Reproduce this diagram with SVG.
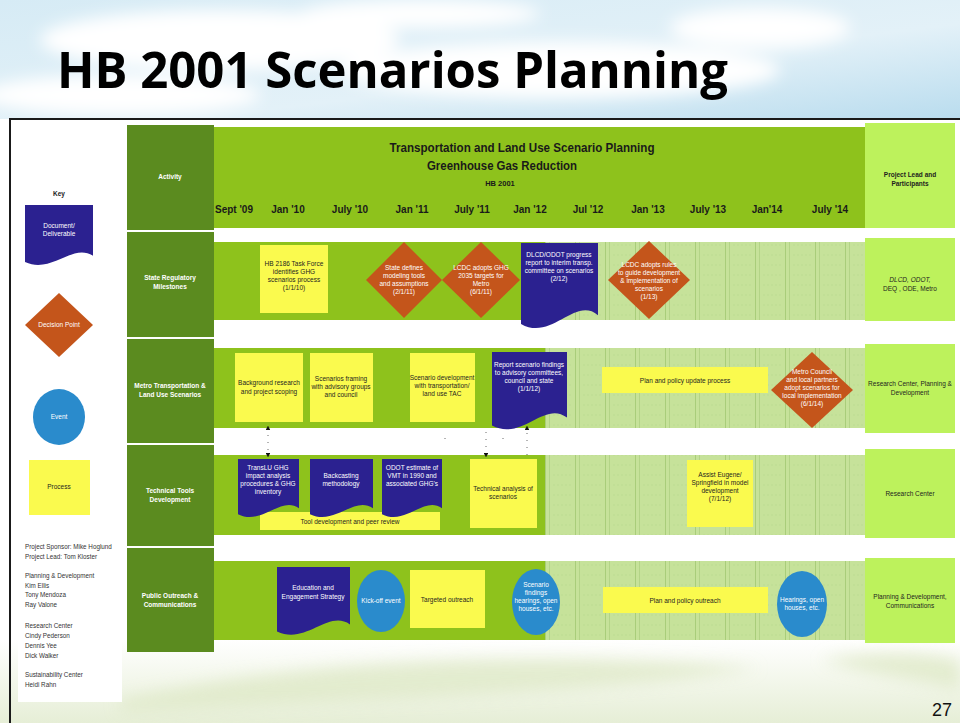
<svg xmlns="http://www.w3.org/2000/svg" xmlns:xlink="http://www.w3.org/1999/xlink" width="960" height="723" viewBox="0 0 960 723">
  <defs>
    <linearGradient id="sky" x1="0" y1="0" x2="1" y2="1">
      <stop offset="0" stop-color="#d6ebf5"/>
      <stop offset="0.6" stop-color="#e3f1f8"/>
      <stop offset="1" stop-color="#b9dcee"/>
    </linearGradient>
    <linearGradient id="ground" x1="0" y1="0" x2="0" y2="1">
      <stop offset="0" stop-color="#ffffff"/>
      <stop offset="1" stop-color="#e6eed6"/>
    </linearGradient>
    <filter id="soft" x="-20%" y="-50%" width="140%" height="200%">
      <feGaussianBlur stdDeviation="8"/>
    </filter>
    <pattern id="grid" width="30" height="10" patternUnits="userSpaceOnUse" x="545" y="0">
      <rect width="30" height="10" fill="#c6e29a"/>
      <line x1="0.5" y1="0" x2="0.5" y2="10" stroke="#a9cd7a" stroke-width="1"/>
      <line x1="4.5" y1="0" x2="4.5" y2="10" stroke="#b3d487" stroke-width="1"/>
      <line x1="8" y1="5" x2="26" y2="5" stroke="#b6d78c" stroke-width="0.6" stroke-dasharray="2 2"/>
    </pattern>
    <symbol id="docShape" viewBox="0 0 100 100" preserveAspectRatio="none">
      <path d="M0,0 H100 V82 C70,60 40,112 0,92 Z"/>
    </symbol>
    <marker id="tri" viewBox="0 0 10 10" refX="5" refY="5" markerWidth="6" markerHeight="6" orient="auto-start-reverse">
      <path d="M0,0 L10,5 L0,10 Z" fill="#111"/>
    </marker>
    <style>
      .sans { font-family: "Liberation Sans", Arial, sans-serif; }
      .doc { fill: #2b2190; }
      .dia { fill: #c4551b; }
      .evt { fill: #2a8bcc; }
      .proc { fill: #fafa4e; }
      .colDark { fill: #5b8b1f; }
      .colLight { fill: #bdf25c; }
      .band { fill: #8ec21c; }
      .pale { fill: url(#grid); }
      .wt { fill: #ffffff; font-family: "Liberation Sans", Arial, sans-serif; font-size: 6.5px; text-anchor: middle; }
      .wb { fill: #ffffff; font-family: "Liberation Sans", Arial, sans-serif; font-size: 6.5px; font-weight: bold; text-anchor: middle; }
      .dk { fill: #1e1e1e; font-family: "Liberation Sans", Arial, sans-serif; font-size: 6.5px; text-anchor: middle; }
      .nm { fill: #333333; font-family: "Liberation Sans", Arial, sans-serif; font-size: 6.3px; }
      .date { fill: #1a1a1a; font-family: "Liberation Sans", Arial, sans-serif; font-size: 10px; font-weight: bold; text-anchor: middle; }
      .hd { fill: #1a1a1a; font-family: "Liberation Sans", Arial, sans-serif; font-weight: bold; text-anchor: middle; }
      .link { stroke: #444; stroke-width: 0.8; stroke-dasharray: 1 6; fill: none; }
    </style>
  </defs>

  <!-- slide background -->
  <rect width="960" height="723" fill="#ffffff"/>
  <rect width="960" height="119" fill="url(#sky)"/>
  <g filter="url(#soft)" fill="#ffffff">
    <ellipse cx="220" cy="40" rx="180" ry="30"/>
    <ellipse cx="560" cy="70" rx="220" ry="28"/>
    <ellipse cx="760" cy="28" rx="90" ry="20"/>
    <ellipse cx="120" cy="95" rx="140" ry="20"/>
    <ellipse cx="420" cy="14" rx="120" ry="14"/>
  </g>
  <rect y="640" width="960" height="83" fill="url(#ground)"/>
  <g filter="url(#soft)" fill="#dfe9c8" opacity="0.8">
    <path d="M120,700 C300,660 520,650 760,668 C640,690 400,700 120,712 Z"/>
    <path d="M820,660 C880,650 930,652 960,660 L960,690 C920,680 870,676 820,660 Z"/>
  </g>

  <!-- slide frame -->
  <path d="M10,723 V119 H960" fill="none" stroke="#1a1a1a" stroke-width="2"/>

  <!-- title -->
  <text x="57" y="88" font-family="'Open Sans', 'Liberation Sans', sans-serif" font-size="50" font-weight="bold" fill="#000" textLength="671" lengthAdjust="spacingAndGlyphs">HB 2001 Scenarios Planning</text>

  <!-- key panel -->
  <g id="key">
    <rect x="18" y="178" width="104" height="524" fill="#ffffff"/>
    <text x="59" y="196" class="sans" font-size="6.5" font-weight="bold" fill="#222" text-anchor="middle">Key</text>
    <g id="key-document">
      <use xlink:href="#docShape" href="#docShape" x="25" y="205" width="68" height="62" class="doc"/>
      <text x="59" y="228" class="wt">Document/</text>
      <text x="59" y="236" class="wt">Deliverable</text>
    </g>
    <g id="key-decision">
      <polygon points="59,293 93,325 59,357 25,325" class="dia"/>
      <text x="59" y="327" class="wt">Decision Point</text>
    </g>
    <g id="key-event">
      <ellipse cx="59" cy="417" rx="26" ry="28" class="evt"/>
      <text x="59" y="419" class="wt">Event</text>
    </g>
    <g id="key-process">
      <rect x="29" y="460" width="61" height="55" class="proc"/>
      <text x="59" y="489" class="dk">Process</text>
    </g>
    <g id="key-people">
      <text x="25" y="549" class="nm">Project Sponsor: Mike Hoglund</text>
      <text x="25" y="559" class="nm">Project Lead: Tom Kloster</text>
      <text x="25" y="578" class="nm">Planning &amp; Development</text>
      <text x="25" y="588" class="nm">Kim Ellis</text>
      <text x="25" y="597" class="nm">Tony Mendoza</text>
      <text x="25" y="607" class="nm">Ray Valone</text>
      <text x="25" y="628" class="nm">Research Center</text>
      <text x="25" y="638" class="nm" font-size="7.5">Cindy Pederson</text>
      <text x="25" y="648" class="nm">Dennis Yee</text>
      <text x="25" y="658" class="nm" font-size="7.5">Dick Walker</text>
      <text x="25" y="677" class="nm">Sustainability Center</text>
      <text x="25" y="687" class="nm">Heidi Rahn</text>
    </g>
  </g>

  <!-- activity column -->
  <g id="activity-column">
    <rect x="127" y="125" width="87" height="105" class="colDark"/>
    <text x="170" y="179" class="wb">Activity</text>
    <rect x="127" y="232" width="87" height="105" class="colDark"/>
    <text x="170" y="280" class="wb">State Regulatory</text>
    <text x="170" y="289" class="wb">Milestones</text>
    <rect x="127" y="339" width="87" height="104" class="colDark"/>
    <text x="170" y="388" class="wb">Metro Transportation &amp;</text>
    <text x="170" y="397" class="wb">Land Use Scenarios</text>
    <rect x="127" y="445" width="87" height="101" class="colDark"/>
    <text x="170" y="493" class="wb">Technical Tools</text>
    <text x="170" y="502" class="wb">Development</text>
    <rect x="127" y="548" width="87" height="104" class="colDark"/>
    <text x="170" y="598" class="wb">Public Outreach &amp;</text>
    <text x="170" y="607" class="wb">Communications</text>
  </g>

  <!-- timeline header -->
  <g id="timeline-header">
    <rect x="214" y="127" width="651" height="101" class="band"/>
    <text x="522" y="152" class="hd" font-size="13" textLength="265" lengthAdjust="spacingAndGlyphs">Transportation and Land Use Scenario Planning</text>
    <text x="502" y="170" class="hd" font-size="13" textLength="150" lengthAdjust="spacingAndGlyphs">Greenhouse Gas Reduction</text>
    <text x="500" y="186" class="hd" font-size="7.5" font-weight="normal">HB 2001</text>
    <text x="234" y="213" class="date">Sept '09</text>
    <text x="288" y="213" class="date">Jan '10</text>
    <text x="350" y="213" class="date">July '10</text>
    <text x="412" y="213" class="date">Jan '11</text>
    <text x="472" y="213" class="date">July '11</text>
    <text x="530" y="213" class="date">Jan '12</text>
    <text x="588" y="213" class="date">Jul '12</text>
    <text x="648" y="213" class="date">Jan '13</text>
    <text x="708" y="213" class="date">July '13</text>
    <text x="767" y="213" class="date">Jan'14</text>
    <text x="830" y="213" class="date">July '14</text>
  </g>

  <!-- participants column -->
  <g id="participants-column">
    <rect x="865" y="123" width="90" height="105" class="colLight"/>
    <text x="910" y="177" class="dk" font-weight="bold">Project Lead and</text>
    <text x="910" y="186" class="dk" font-weight="bold">Participants</text>
    <rect x="865" y="238" width="90" height="83" class="colLight"/>
    <text x="910" y="282" class="dk" font-style="italic">DLCD, ODOT,</text>
    <text x="910" y="291" class="dk">DEQ , ODE, Metro</text>
    <rect x="865" y="344" width="90" height="89" class="colLight"/>
    <text x="910" y="386" class="dk">Research Center, Planning &amp;</text>
    <text x="910" y="395" class="dk">Development</text>
    <rect x="865" y="449" width="90" height="89" class="colLight"/>
    <text x="910" y="496" class="dk">Research Center</text>
    <rect x="865" y="558" width="90" height="85" class="colLight"/>
    <text x="910" y="599" class="dk">Planning &amp; Development,</text>
    <text x="910" y="608" class="dk">Communications</text>
  </g>

  <!-- row bands -->
  <g id="row-bands">
    <rect x="214" y="242" width="331" height="78" class="band"/>
    <rect x="545" y="242" width="320" height="78" class="pale"/>
    <rect x="214" y="348" width="331" height="80" class="band"/>
    <rect x="545" y="348" width="320" height="80" class="pale"/>
    <rect x="214" y="455" width="331" height="80" class="band"/>
    <rect x="545" y="455" width="320" height="80" class="pale"/>
    <rect x="214" y="561" width="331" height="79" class="band"/>
    <rect x="545" y="561" width="320" height="79" class="pale"/>
  </g>

  <!-- connectors -->
  <g id="connectors">
    <line x1="268" y1="428" x2="268" y2="455" class="link" marker-start="url(#tri)" marker-end="url(#tri)"/>
    <line x1="486" y1="432" x2="486" y2="455" class="link" marker-end="url(#tri)"/>
    <line x1="527" y1="455" x2="527" y2="428" class="link" marker-end="url(#tri)"/>
    <line x1="445" y1="438" x2="445" y2="444" class="link"/>
    <line x1="503" y1="438" x2="503" y2="444" class="link"/>
  </g>

  <!-- state regulatory milestones -->
  <g id="hb2186-task-force">
    <rect x="260" y="245" width="68" height="68" class="proc"/>
    <text x="294" y="266" class="dk">HB 2186 Task Force</text>
    <text x="294" y="274" class="dk">identifies GHG</text>
    <text x="294" y="282" class="dk">scenarios process</text>
    <text x="294" y="290" class="dk">(1/1/10)</text>
  </g>
  <g id="state-defines-tools">
    <polygon points="404,242 442,280 404,318 366,280" class="dia"/>
    <text x="404" y="270" class="wt">State defines</text>
    <text x="404" y="278" class="wt">modeling tools</text>
    <text x="404" y="286" class="wt">and assumptions</text>
    <text x="404" y="294" class="wt">(2/1/11)</text>
  </g>
  <g id="lcdc-targets">
    <polygon points="481,242 520,280 481,318 442,280" class="dia"/>
    <text x="481" y="270" class="wt">LCDC adopts GHG</text>
    <text x="481" y="278" class="wt">2035 targets for</text>
    <text x="481" y="286" class="wt">Metro</text>
    <text x="481" y="294" class="wt">(6/1/11)</text>
  </g>
  <g id="progress-report">
    <use xlink:href="#docShape" href="#docShape" x="521" y="243" width="77" height="88" class="doc"/>
    <text x="559" y="257" class="wt">DLCD/ODOT progress</text>
    <text x="559" y="265" class="wt">report to interim transp.</text>
    <text x="559" y="273" class="wt">committee on scenarios</text>
    <text x="559" y="281" class="wt">(2/12)</text>
  </g>
  <g id="lcdc-rules">
    <polygon points="649,241 690,280 649,319 608,280" class="dia"/>
    <text x="649" y="267" class="wt">LCDC adopts rules</text>
    <text x="649" y="275" class="wt">to guide development</text>
    <text x="649" y="283" class="wt">&amp; implementation of</text>
    <text x="649" y="291" class="wt">scenarios</text>
    <text x="649" y="299" class="wt">(1/13)</text>
  </g>

  <!-- metro transportation and land use scenarios -->
  <g id="background-research">
    <rect x="235" y="353" width="68" height="69" class="proc"/>
    <text x="269" y="385" class="dk" font-size="7">Background research</text>
    <text x="269" y="394" class="dk" font-size="7">and project scoping</text>
  </g>
  <g id="scenarios-framing">
    <rect x="310" y="353" width="63" height="69" class="proc"/>
    <text x="341" y="381" class="dk">Scenarios framing</text>
    <text x="341" y="389" class="dk">with advisory groups</text>
    <text x="341" y="397" class="dk">and council</text>
  </g>
  <g id="scenario-development">
    <rect x="410" y="353" width="65" height="69" class="proc"/>
    <text x="442" y="380" class="dk">Scenario development</text>
    <text x="442" y="388" class="dk">with transportation/</text>
    <text x="442" y="396" class="dk">land use TAC</text>
  </g>
  <g id="report-findings">
    <use xlink:href="#docShape" href="#docShape" x="492" y="352" width="75" height="80" class="doc"/>
    <text x="529" y="367" class="wt">Report scenario findings</text>
    <text x="529" y="375" class="wt">to advisory committees,</text>
    <text x="529" y="383" class="wt">council and state</text>
    <text x="529" y="391" class="wt">(1/1/12)</text>
  </g>
  <g id="plan-policy-update">
    <rect x="602" y="367" width="166" height="26" class="proc"/>
    <text x="685" y="383" class="dk" font-size="7">Plan and policy update process</text>
  </g>
  <g id="adopt-scenarios">
    <polygon points="812,352 853,390 812,428 771,390" class="dia"/>
    <text x="812" y="374" class="wt">Metro Council</text>
    <text x="812" y="382" class="wt">and local partners</text>
    <text x="812" y="390" class="wt">adopt scenarios for</text>
    <text x="812" y="398" class="wt">local implementation</text>
    <text x="812" y="406" class="wt">(6/1/14)</text>
  </g>

  <!-- technical tools development -->
  <g id="tool-development">
    <rect x="260" y="512" width="180" height="18" class="proc"/>
    <text x="350" y="524" class="dk">Tool development and peer review</text>
  </g>
  <g id="translu-ghg">
    <use xlink:href="#docShape" href="#docShape" x="238" y="459" width="61" height="60" class="doc"/>
    <text x="268" y="470" class="wt">TransLU GHG</text>
    <text x="268" y="478" class="wt">impact analysis</text>
    <text x="268" y="486" class="wt">procedures &amp; GHG</text>
    <text x="268" y="494" class="wt">inventory</text>
  </g>
  <g id="backcasting">
    <use xlink:href="#docShape" href="#docShape" x="310" y="459" width="63" height="60" class="doc"/>
    <text x="341" y="478" class="wt">Backcasting</text>
    <text x="341" y="486" class="wt">methodology</text>
  </g>
  <g id="odot-vmt">
    <use xlink:href="#docShape" href="#docShape" x="382" y="459" width="60" height="60" class="doc"/>
    <text x="412" y="470" class="wt">ODOT estimate of</text>
    <text x="412" y="478" class="wt">VMT in 1990 and</text>
    <text x="412" y="486" class="wt">associated GHG's</text>
  </g>
  <g id="technical-analysis">
    <rect x="470" y="459" width="67" height="69" class="proc"/>
    <text x="503" y="491" class="dk">Technical analysis of</text>
    <text x="503" y="499" class="dk" font-size="5.5">scenarios</text>
  </g>
  <g id="assist-eugene">
    <rect x="687" y="460" width="66" height="67" class="proc"/>
    <text x="720" y="477" class="dk">Assist Eugene/</text>
    <text x="720" y="485" class="dk">Springfield in model</text>
    <text x="720" y="493" class="dk" font-size="5.5">development</text>
    <text x="720" y="501" class="dk">(7/1/12)</text>
  </g>

  <!-- public outreach and communications -->
  <g id="engagement-strategy">
    <use xlink:href="#docShape" href="#docShape" x="277" y="567" width="73" height="70" class="doc"/>
    <text x="313" y="590" class="wt">Education and</text>
    <text x="313" y="599" class="wt">Engagement Strategy</text>
  </g>
  <g id="kick-off">
    <ellipse cx="381" cy="601" rx="24" ry="31" class="evt"/>
    <text x="381" y="603" class="wt">Kick-off event</text>
  </g>
  <g id="targeted-outreach">
    <rect x="410" y="570" width="75" height="58" class="proc"/>
    <text x="447" y="602" class="dk">Targeted outreach</text>
  </g>
  <g id="scenario-findings-event">
    <ellipse cx="536" cy="602" rx="24" ry="33" class="evt"/>
    <text x="536" y="587" class="wt">Scenario</text>
    <text x="536" y="595" class="wt">findings</text>
    <text x="536" y="603" class="wt">hearings, open</text>
    <text x="536" y="611" class="wt">houses, etc.</text>
  </g>
  <g id="plan-policy-outreach">
    <rect x="603" y="587" width="165" height="26" class="proc"/>
    <text x="685" y="603" class="dk" font-size="7">Plan and policy outreach</text>
  </g>
  <g id="hearings-event">
    <ellipse cx="802" cy="604" rx="25" ry="33" class="evt"/>
    <text x="802" y="602" class="wt">Hearings, open</text>
    <text x="802" y="610" class="wt">houses, etc.</text>
  </g>

  <!-- slide number -->
  <text x="952" y="716" class="sans" font-size="18" fill="#111" text-anchor="end">27</text>
</svg>
